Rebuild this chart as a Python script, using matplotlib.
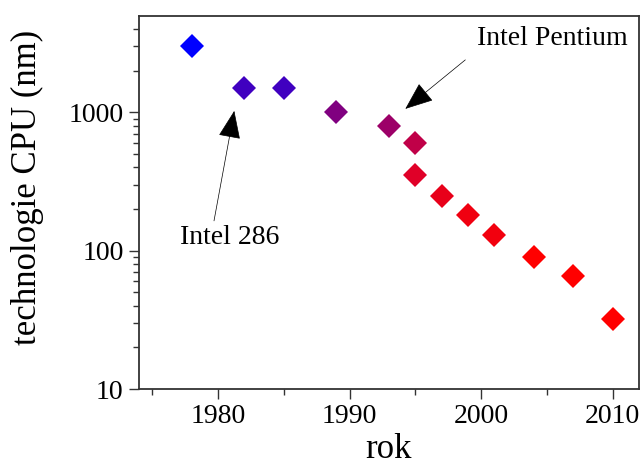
import matplotlib
matplotlib.use("Agg")
import matplotlib.pyplot as plt
from matplotlib.ticker import LogLocator, FixedLocator, NullFormatter

plt.rcParams['font.family'] = ['Liberation Serif', 'DejaVu Serif']

# CPU process technology by year
years = [1978, 1982, 1985, 1989, 1993, 1995, 1995, 1997, 1999, 2001, 2004, 2007, 2010]
feature_nm = [3000, 1500, 1500, 1000, 800, 600, 350, 250, 180, 130, 90, 65, 32]

# marker colours running from blue to red
marker_colors = ['#0000ff', '#4000c0', '#4000c0', '#800080', '#9c0068', '#c00048',
                 '#e00028', '#e8001a', '#f00010', '#f2000e', '#ff0000', '#ff0000', '#ff0000']

x_ticks = [1980, 1990, 2000, 2010]
y_ticks = [10, 100, 1000]

fig = plt.figure(figsize=(6.44, 4.69), dpi=100)
ax = fig.add_axes([139 / 644, 1 - 389 / 469, 500 / 644, 373 / 469])

for x, y, c in zip(years, feature_nm, marker_colors):
    ax.plot(x, y, marker='D', markersize=12.5, color=c, markeredgewidth=0, linestyle='none')

ax.set_yscale('log')
ax.set_xlim(1974, 2012)
ax.set_ylim(10, 4955)

ax.xaxis.set_major_locator(FixedLocator(x_ticks))
ax.xaxis.set_minor_locator(FixedLocator([1975, 1985, 1995, 2005]))
ax.set_xticklabels([str(t) for t in x_ticks])
ax.yaxis.set_major_locator(FixedLocator(y_ticks))
ax.set_yticklabels([str(t) for t in y_ticks])
ax.yaxis.set_minor_locator(LogLocator(base=10, subs=range(2, 10)))
ax.yaxis.set_minor_formatter(NullFormatter())

ax.tick_params(which='major', direction='out', length=7, width=1.0, labelsize=20, pad=4,
               top=False, right=False, color='#333333')
ax.tick_params(which='minor', direction='out', length=4, width=1.0,
               top=False, right=False, color='#333333')
for s in ax.spines.values():
    s.set_linewidth(1.3)
    s.set_color('#333333')

ax.set_xlabel('rok', fontsize=25, labelpad=3)
ax.set_ylabel('technologie CPU (nm)', fontsize=25)
ax.yaxis.set_label_coords(-0.19, 0.54)

arrow_kw = dict(arrowstyle='-|>,head_length=1.0,head_width=0.4', color='black',
                lw=0.5, mutation_scale=18, shrinkA=0, shrinkB=0)
ax.annotate('', xy=(1994.24, 1057), xytext=(1998.8, 2388), arrowprops=arrow_kw)
ax.annotate('', xy=(1981.24, 1022), xytext=(1979.7, 164), arrowprops=arrow_kw)
ax.text(1999.7, 3383, 'Intel Pentium', fontsize=20, ha='left', va='center')
ax.text(1977.13, 124, 'Intel 286', fontsize=20, ha='left', va='center')

fig.savefig('out.png', dpi=100)
